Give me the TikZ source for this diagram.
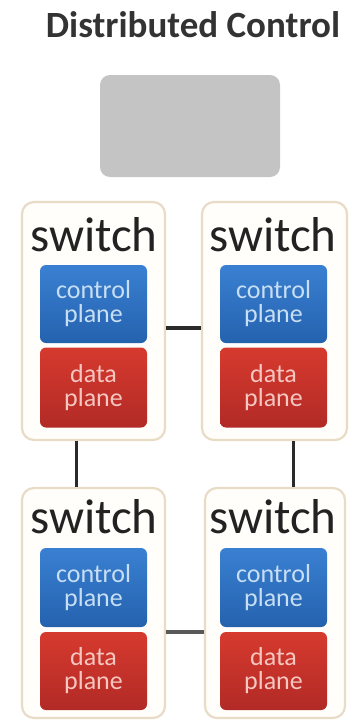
\documentclass[tikz,border=0pt]{standalone}
\usepackage{fontspec}
\setmainfont{Carlito}
\begin{document}
\begin{tikzpicture}[x=1pt,y=-1pt,
  swbox/.style={draw=swline,line width=2.2pt,fill=swfill,rounded corners=12pt},
  cpbox/.style={draw=none,rounded corners=6pt,top color=cptop,bottom color=cpbot,
    text=cptext,align=center,font=\fontsize{26}{24}\selectfont,
    minimum width=107pt,minimum height=78pt,inner sep=0pt},
  dpbox/.style={draw=none,rounded corners=6pt,top color=dptop,bottom color=dpbot,
    text=dptext,align=center,font=\fontsize{26}{24}\selectfont,
    minimum width=107pt,minimum height=80pt,inner sep=0pt},
  swlabel/.style={font=\fontsize{49}{49}\selectfont,text=swtext,inner sep=0pt,anchor=base},
  link/.style={line width=3.5pt,draw=linkcol}]
\definecolor{swline}{HTML}{E8DCC6}
\definecolor{swfill}{HTML}{FFFEFA}
\definecolor{cptop}{HTML}{3A80D2}
\definecolor{cpbot}{HTML}{2462AE}
\definecolor{cptext}{HTML}{C8DEF4}
\definecolor{dptop}{HTML}{D63A2E}
\definecolor{dpbot}{HTML}{B22A26}
\definecolor{dptext}{HTML}{F6C6C0}
\definecolor{swtext}{HTML}{222222}
\definecolor{linkcol}{HTML}{2A2A2A}
\definecolor{graybox}{HTML}{C4C4C4}
\useasboundingbox[fill=white] (0,0) rectangle (352,728);

\node[font=\bfseries\fontsize{37}{37}\selectfont,text=black!80,inner sep=0pt] (title) at (193,25) {Distributed Control};
\node[draw=none,fill=graybox,rounded corners=10pt,minimum width=180pt,minimum height=102pt,inner sep=0pt] (ctrl) at (190,126) {};

% switches
\node[swbox,minimum width=143pt,minimum height=238pt,inner sep=0pt] (s1) at (93.5,321) {};
\node[swbox,minimum width=145pt,minimum height=238pt,inner sep=0pt] (s2) at (274.5,321) {};
\node[swbox,minimum width=143pt,minimum height=230pt,inner sep=0pt] (s3) at (93.5,603) {};
\node[swbox,minimum width=140pt,minimum height=230pt,inner sep=0pt] (s4) at (275,603) {};

\node[swlabel] (l1) at (94,251) {switch};
\node[swlabel] (l2) at (273,251) {switch};
\node[swlabel] (l3) at (94,533) {switch};
\node[swlabel] (l4) at (273,533) {switch};

\node[cpbox] (c1) at (93.5,304) {control\\plane};
\node[dpbox] (d1) at (93.5,387.5) {data\\plane};
\node[cpbox] (c2) at (273.5,304) {control\\plane};
\node[dpbox] (d2) at (273.5,387.5) {data\\plane};
\node[cpbox,minimum height=79pt] (c3) at (93.5,587.5) {control\\plane};
\node[dpbox,minimum height=78pt] (d3) at (93.5,671) {data\\plane};
\node[cpbox,minimum height=79pt] (c4) at (273.5,587.5) {control\\plane};
\node[dpbox,minimum height=78pt] (d4) at (273.5,671) {data\\plane};

% links
\draw[link] ([yshift=-7pt]s1.east) -- ([yshift=-7pt]s2.west);
\draw[link,draw=black!65] ([yshift=-29pt]s3.east) -- ([yshift=-29pt]s4.west);
\draw[link,line width=3pt] ([xshift=-17.5pt]s1.south) -- ([xshift=-17.5pt]s3.north);
\draw[link,line width=3pt] ([xshift=18.5pt]s2.south) -- ([xshift=18pt]s4.north);
\end{tikzpicture}
\end{document}
